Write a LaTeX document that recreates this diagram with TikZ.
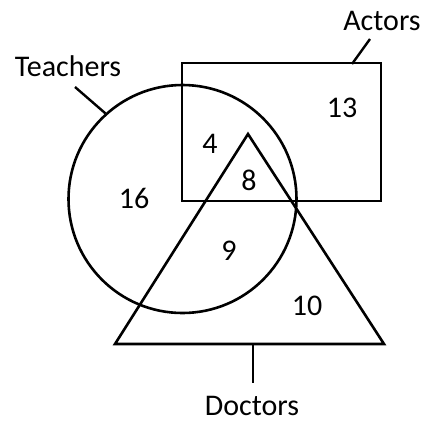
\documentclass[tikz,border=0pt]{standalone}
\usepackage{fontspec}
\setmainfont{Carlito}
\begin{document}
\begin{tikzpicture}[x=1pt,y=-1pt,
  shape line/.style={line width=2.6pt, line join=miter},
  lead/.style={line width=2.4pt},
  lbl/.style={inner sep=0pt, anchor=base, font=\fontsize{30}{36}\selectfont}]
\useasboundingbox (0,0) rectangle (425,421);
% sets
\node[draw, shape line, circle, minimum size=228pt, inner sep=0pt] (T) at (182.5,199) {};
\node[draw, shape line, rectangle, minimum width=199pt, minimum height=138pt, inner sep=0pt] (A) at (281.5,132) {};
\coordinate (apex) at (248,134);
\coordinate (bl) at (115,344);
\coordinate (br) at (384,344);
\draw[shape line] (apex) -- (bl) -- (br) -- cycle;
% labels
\node[lbl] (tA) at (382,30) {Actors};
\node[lbl] (tT) at (68,76) {Teachers};
\node[lbl] (tD) at (252,415) {Doctors};
\coordinate (aS) at (352,64);
\coordinate (aE) at (370,39);
\coordinate (tE) at (75,87);
\coordinate (dS) at (253,344);
\coordinate (dE) at (253,383);
\draw[lead] (aS) -- (aE);
\draw[lead] (T.132) -- (tE);
\draw[lead] (dS) -- (dE);
% counts
\node[lbl] (n13) at (342,117) {13};
\node[lbl] (n4) at (210,153) {4};
\node[lbl] (n8) at (249,190) {8};
\node[lbl] (n16) at (134,208) {16};
\node[lbl] (n9) at (229,260) {9};
\node[lbl] (n10) at (307,315) {10};
\end{tikzpicture}
\end{document}
